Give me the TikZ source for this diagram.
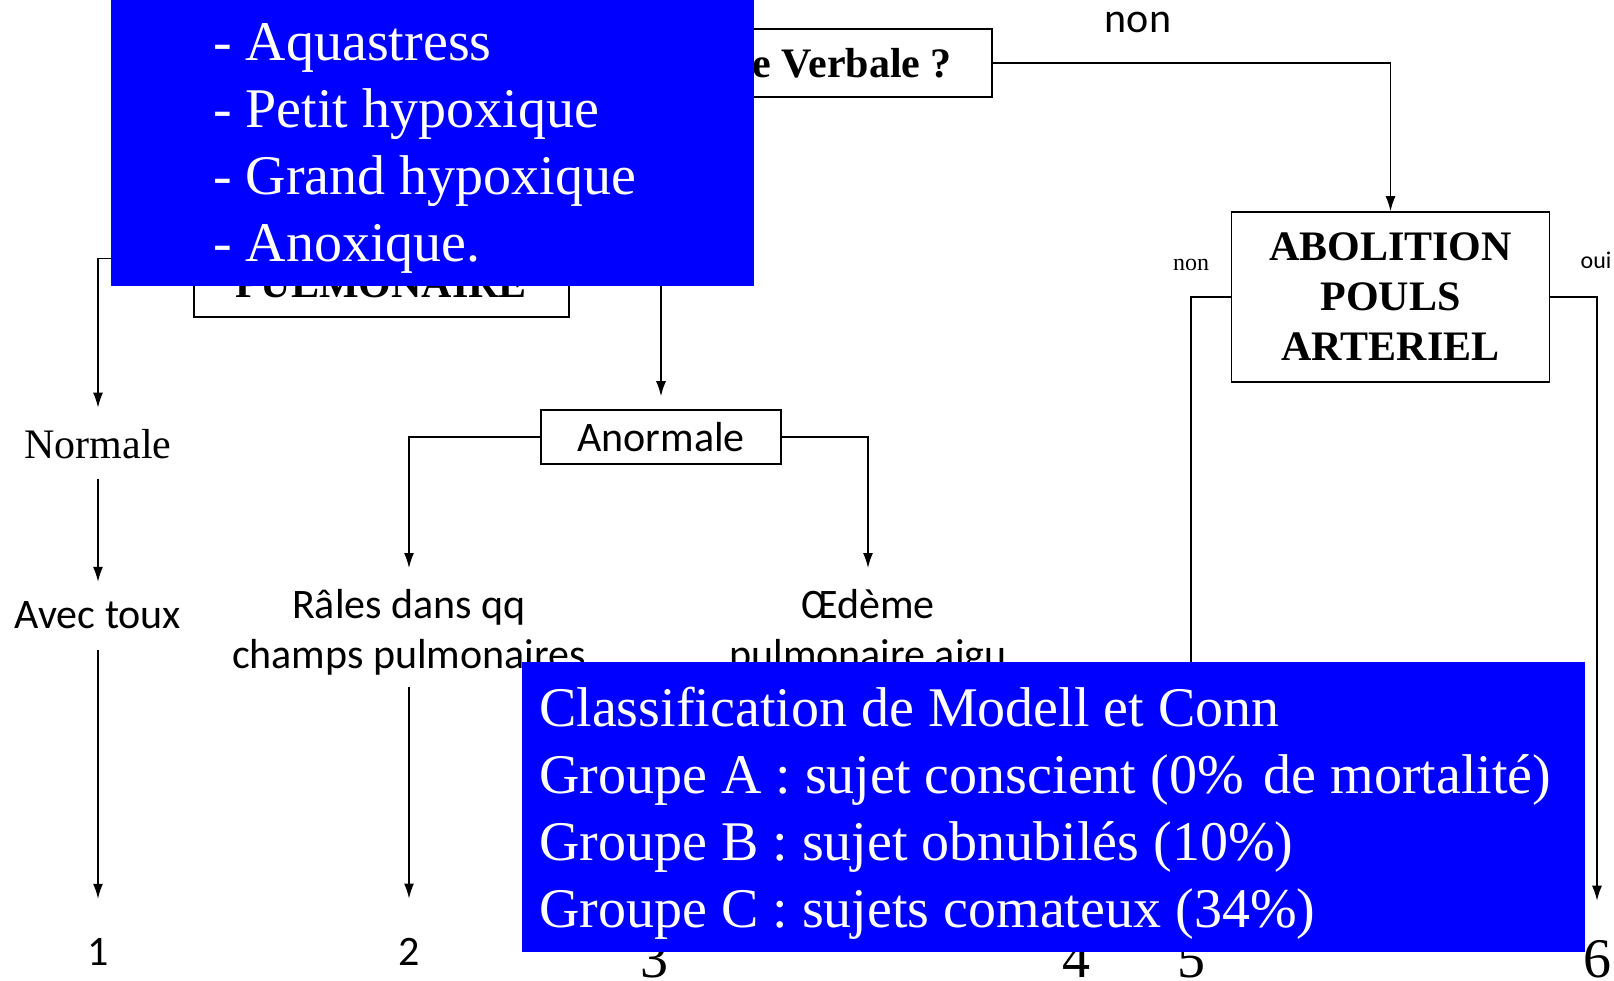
\documentclass[tikz,border=0pt]{standalone}
\usepackage{fontspec}
\setmainfont{Liberation Serif}
\newfontfamily\calib{Carlito}
\usetikzlibrary{arrows.meta}
\definecolor{bleu}{RGB}{0,0,255}

\begin{document}
\begin{tikzpicture}[x=1pt,y=-1pt]
\tikzstyle{every node}+=[inner sep=0pt]
\tikzstyle{fleche}=[line width=1.5pt,-{Latex[length=15pt,width=10pt]}]
\tikzstyle{boite}=[draw,line width=1.5pt,fill=white]
\tikzstyle{cal}=[font=\calib\fontsize{42}{50}\selectfont]
\tikzstyle{tnr}=[font=\fontsize{42}{50}\selectfont]
\tikzstyle{chiffre}=[font=\fontsize{56}{67}\selectfont]
\tikzstyle{petit}=[font=\fontsize{24}{28}\selectfont]
\tikzstyle{petitcal}=[font=\calib\fontsize{24}{28}\selectfont]
\tikzstyle{gras}=[font=\bfseries\fontsize{42}{50}\selectfont,align=center]
\tikzstyle{fond}=[fill=bleu,anchor=north west]
\tikzstyle{blanc}=[text=white,font=\fontsize{56}{67}\selectfont,anchor=north west,align=left]
\useasboundingbox (0,0) rectangle (1614,981);
\node[boite,minimum width=392,minimum height=68] (verbale) at (796,63) {};
\node[gras,anchor=base east] (verbtxt) at (952,78) {e Verbale ?};
\node[boite,minimum width=375,minimum height=117] (pulmo) at (381.5,258.5) {};
\node[gras,anchor=base] (pulmotxt) at (381,298) {PULMONAIRE};
\node[boite,gras,minimum width=318,minimum height=170] (abolition) at (1390.5,297) {ABOLITION\\POULS\\ARTERIEL};
\node[boite,cal,minimum width=240,minimum height=54] (anormale) at (661,437) {Anormale};
\node[tnr,anchor=base] (normale) at (98,458) {Normale};
\node[cal,anchor=base] (avectoux) at (98,628) {Avec toux};
\node[cal,anchor=north,align=center] (rales) at (409,589) {Râles dans qq\\champs pulmonaires};
\node[cal,anchor=north,align=center] (oedeme) at (868,589) {Œdème\\pulmonaire aigu};
\node[cal,anchor=base] (un) at (98,965) {1};
\node[cal,anchor=base] (deux) at (409,965) {2};
\node[chiffre,anchor=base] (trois) at (654,977) {3};
\node[chiffre,anchor=base] (quatre) at (1076,977) {4};
\node[chiffre,anchor=base] (cinq) at (1191,977) {5};
\node[chiffre,anchor=base] (six) at (1597,977) {6};
\node[cal,anchor=base] (nonhaut) at (1138,33) {non};
\node[petit,anchor=base] (nongauche) at (1191,271) {non};
\node[petitcal,anchor=base] (oui) at (1596,269) {oui};
\draw[fleche] (verbale.east) -| (abolition.north);
\draw[fleche,shorten >=21pt] (pulmo.west) -| (normale.north);
\draw[fleche,shorten >=13pt] (pulmo.east) -| (anormale.north);
\draw[fleche,shorten <=20pt,shorten >=19pt] (normale.south) -- (avectoux.north);
\draw[fleche,shorten <=21pt,shorten >=39pt] (avectoux.south) -- (un.north);
\draw[fleche,shorten >=21pt] (anormale.west) -| (rales.north);
\draw[fleche,shorten >=21pt] (anormale.east) -| (oedeme.north);
\draw[fleche,shorten <=12pt,shorten >=39pt] (rales.south) -- (deux.north);
\draw[fleche,shorten >=40pt] (abolition.west) -| (cinq.north);
\draw[fleche,shorten >=39pt] (abolition.east) -| (six.north);
\node[fond,minimum width=643,minimum height=286] (types) at (111,0) {};
\node[blanc] (typestxt) at (213,23) {- Aquastress\\- Petit hypoxique\\- Grand hypoxique\\- Anoxique.};
\node[fond,minimum width=1063,minimum height=290] (modell) at (522,662) {};
\node[blanc] (modelltxt) at (539,687) {Classification de Modell et Conn\\Groupe A : sujet conscient (0\%\hspace{6pt} de mortalité)\\Groupe B : sujet obnubilés (10\%)\\Groupe C : sujets comateux (34\%)};
\end{tikzpicture}
\end{document}
